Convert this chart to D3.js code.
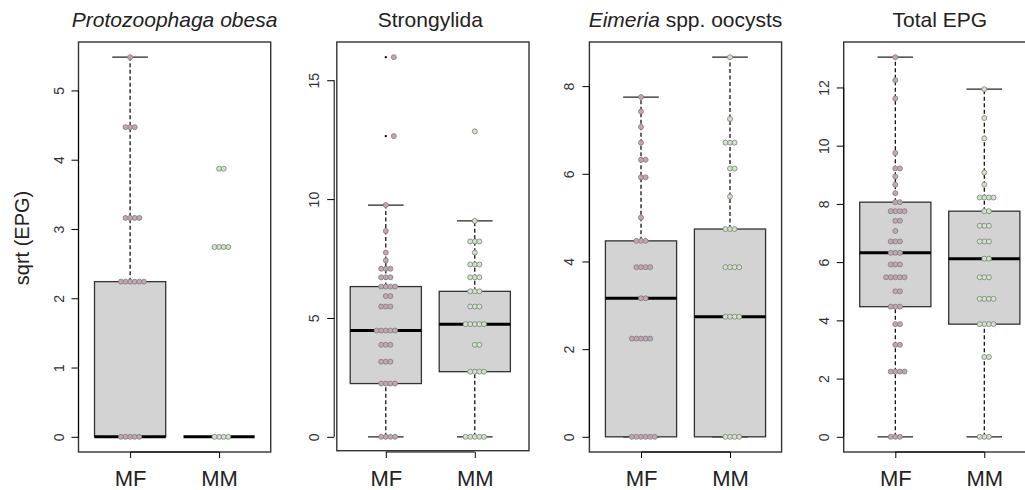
<!DOCTYPE html>
<html>
<head>
<meta charset="utf-8">
<script src="https://cdn.jsdelivr.net/npm/d3@7"></script>
<style>
	body { margin: 0; background: #fff; }
	svg { display: block; font-family: "Liberation Sans", Arial, sans-serif; }
</style>
</head>
<body>
<svg id="chart" width="1025" height="490"></svg>
<script>
var groups = ['MF', 'MM'];

// sqrt(EPG) values per animal, read from the dot strips
var protoMF = [5.48, 4.47, 4.47, 4.47, 3.16, 3.16, 3.16, 3.16, 2.24, 2.24, 2.24, 2.24, 2.24, 2.24, 0, 0, 0, 0, 0];
var protoMM = [3.87, 3.87, 2.74, 2.74, 2.74, 2.74, 0, 0, 0, 0];
var strongMF = [15.97, 12.65, 9.75, 8.66, 7.75, 7.42, 7.07, 7.07, 7.07, 6.71, 6.71, 6.71, 6.32, 6.32, 6.32, 6.32,
	5.92, 5.92, 5.48, 5.48, 5.48, 4.47, 4.47, 4.47, 4.47, 4.47, 3.87, 3.87, 3.87, 3.16, 3.16, 3.16,
	2.24, 2.24, 2.24, 2.24, 0, 0, 0, 0];
var strongMM = [12.85, 9.08, 8.22, 8.22, 8.22, 7.75, 7.25, 7.25, 7.25, 6.71, 6.71, 6.71, 6.12, 6.12, 6.12,
	5.48, 5.48, 5.48, 4.74, 4.74, 4.74, 4.74, 4.74, 3.87, 3.87, 2.74, 2.74, 2.74, 2.74, 0, 0, 0, 0, 0];
var eimeriaMF = [7.75, 7.42, 7.07, 6.71, 6.32, 6.32, 5.92, 5.92, 5.0, 4.47, 4.47, 4.47, 3.87, 3.87, 3.87, 3.87,
	3.16, 3.16, 2.24, 2.24, 2.24, 2.24, 2.24, 0, 0, 0, 0, 0, 0];
var eimeriaMM = [8.66, 7.25, 6.71, 6.71, 6.71, 6.12, 6.12, 5.48, 4.74, 4.74, 4.74, 3.87, 3.87, 3.87, 3.87,
	2.74, 2.74, 2.74, 2.74, 0, 0, 0, 0];
var totalMF = [13.04, 12.25, 11.62, 9.75, 9.22, 9.22, 8.94, 8.66, 8.37, 8.06, 8.06, 7.75, 7.75, 7.75, 7.75,
	7.42, 7.42, 7.07, 6.71, 6.71, 6.71, 6.32, 6.32, 6.32, 5.92, 5.92, 5.92, 5.48, 5.48, 5.48, 5.48, 5.48,
	5.0, 5.0, 4.47, 4.47, 4.47, 3.87, 3.87, 3.16, 3.16, 2.24, 2.24, 2.24, 2.24, 0, 0, 0];
var totalMM = [11.94, 10.95, 10.25, 9.08, 8.66, 8.22, 8.22, 8.22, 8.22, 7.75, 7.75, 7.25, 7.25, 7.25,
	6.71, 6.71, 6.71, 6.12, 6.12, 5.48, 5.48, 5.48, 4.74, 4.74, 4.74, 4.74, 3.87, 3.87, 3.87, 3.87,
	2.74, 2.74, 0, 0, 0];

// box stats: [lower whisker, q1, median, q3, upper whisker]
var protoBox = [[0, 0, 0, 2.24, 5.48], [0, 0, 0, 0, 0]];
var strongBox = [[0, 2.24, 4.47, 6.32, 9.75], [0, 2.74, 4.74, 6.12, 9.08]];
var eimeriaBox = [[0, 0, 3.16, 4.47, 7.75], [0, 0, 2.74, 4.74, 8.66]];
var totalBox = [[0, 4.47, 6.32, 8.06, 13.04], [0, 3.87, 6.12, 7.75, 11.94]];

var protoOut = [[], [2.74, 3.87]];
var strongOut = [[12.65, 15.97], [12.85]];
var eimeriaOut = [[], []];
var totalOut = [[], []];

var protoTicks = [0, 1, 2, 3, 4, 5];
var strongTicks = [0, 5, 10, 15];
var eimeriaTicks = [0, 2, 4, 6, 8];
var totalTicks = [0, 2, 4, 6, 8, 10, 12];

var titles = [
	[{ t: 'Protozoophaga obesa', i: true }],
	[{ t: 'Strongylida', i: false }],
	[{ t: 'Eimeria', i: true }, { t: ' spp. oocysts', i: false }],
	[{ t: 'Total EPG', i: false }]
];

var panels = [
	{ values: [protoMF, protoMM], box: protoBox, out: protoOut, ticks: protoTicks },
	{ values: [strongMF, strongMM], box: strongBox, out: strongOut, ticks: strongTicks },
	{ values: [eimeriaMF, eimeriaMM], box: eimeriaBox, out: eimeriaOut, ticks: eimeriaTicks },
	{ values: [totalMF, totalMM], box: totalBox, out: totalOut, ticks: totalTicks }
];

var plotLefts = [78.5, 334.2, 589.4, 843.7];
var plotWidth = 192.2;
var plotTop = 42;
var plotBottom = 452;
var frameShift = [[0, 0], [2.6, -1.3], [0, 0], [0, 0]];
var dotFill = ['#c4a5b6', '#d0e4ca'];

var svg = d3.select('#chart');

svg.append('text')
	.attr('transform', 'translate(29,238) rotate(-90)')
	.attr('text-anchor', 'middle')
	.attr('font-size', 20)
	.attr('fill', '#222')
	.text('sqrt (EPG)');

function swarmOffsets (vals, y, d) {
	var order = vals.map(function (v, k) { return k; })
		.sort(function (a, b) { return vals[a] - vals[b]; });
	var placed = [];
	var out = new Array(vals.length);

	order.forEach(function (k) {
		var py = y(vals[k]);
		var cands = [0];
		placed.forEach(function (p) {
			var dy = Math.abs(p.y - py);
			if (dy < d) {
				var dx = Math.sqrt(d * d - dy * dy);
				cands.push(p.x + dx, p.x - dx);
			}
		});
		cands.sort(function (a, b) { return Math.abs(a) - Math.abs(b); });
		var best = cands.find(function (c) {
			return placed.every(function (p) {
				var ddx = p.x - c, ddy = p.y - py;
				return ddx * ddx + ddy * ddy >= d * d - 0.01;
			});
		});
		placed.push({ x: best, y: py });
		out[k] = best;
	});
	return out;
};

function drawPanel (p, i) {
	var g = svg.append('g');
	var x = d3.scaleLinear().domain([0.42, 2.58]).range([plotLefts[i], plotLefts[i] + plotWidth]);
	var ymax = d3.max(p.values, function (v) { return d3.max(v); });
	var y = d3.scaleLinear().domain([-ymax * 0.04, ymax * 1.04]).range([plotBottom, plotTop]);
	var half = 0.4, cap = 0.2;

	// title
	var title = g.append('text')
		.attr('x', x(1.5))
		.attr('y', 26.5)
		.attr('text-anchor', 'middle')
		.attr('font-size', 21)
		.attr('fill', '#222');
	titles[i].forEach(function (part) {
		title.append('tspan')
			.attr('font-style', part.i ? 'italic' : 'normal')
			.text(part.t);
	});

	// frame
	g.append('rect')
		.attr('x', x(0.42) + frameShift[i][0])
		.attr('y', plotTop)
		.attr('width', plotWidth)
		.attr('height', plotBottom + frameShift[i][1] - plotTop)
		.attr('fill', 'none')
		.attr('stroke', '#333')
		.attr('stroke-width', 1.4);

	// y axis
	var yAxis = g.append('g')
		.attr('transform', 'translate(' + x(0.42) + ',0)')
		.call(d3.axisLeft(y).tickValues(p.ticks).tickSize(7).tickFormat(d3.format('d')));
	yAxis.select('.domain').remove();
	yAxis.append('line')
		.attr('y1', y(p.ticks[0]))
		.attr('y2', y(p.ticks[p.ticks.length - 1]))
		.attr('stroke', '#000');
	yAxis.selectAll('.tick line').attr('stroke', '#000');
	yAxis.selectAll('.tick text')
		.attr('x', null)
		.attr('dy', null)
		.attr('transform', 'translate(-15,0) rotate(-90)')
		.attr('text-anchor', 'middle')
		.attr('font-size', 14)
		.attr('font-family', '"Liberation Sans", Arial, sans-serif')
		.attr('fill', '#333');

	// x axis
	var xAxis = g.append('g')
		.attr('transform', 'translate(0,' + plotBottom + ')')
		.call(d3.axisBottom(x).tickValues([1, 2]).tickSize(6).tickFormat(function (d) { return groups[d - 1]; }));
	xAxis.select('.domain').remove();
	xAxis.append('line')
		.attr('x1', x(1))
		.attr('x2', x(2))
		.attr('stroke', '#000');
	xAxis.selectAll('.tick line').attr('stroke', '#000');
	xAxis.selectAll('.tick text')
		.attr('y', 34)
		.attr('dy', null)
		.attr('font-size', 22)
		.attr('font-family', '"Liberation Sans", Arial, sans-serif')
		.attr('fill', '#222');

	// boxes
	p.box.forEach(function (b, k) {
		var c = k + 1;
		var bg = g.append('g');

		bg.append('line')
			.attr('x1', x(c)).attr('x2', x(c))
			.attr('y1', y(b[3])).attr('y2', y(b[4]))
			.attr('stroke', '#000').attr('stroke-width', 1.2)
			.attr('stroke-dasharray', '4,2.5');
		bg.append('line')
			.attr('x1', x(c)).attr('x2', x(c))
			.attr('y1', y(b[0])).attr('y2', y(b[1]))
			.attr('stroke', '#000').attr('stroke-width', 1.2)
			.attr('stroke-dasharray', '4,2.5');
		[b[0], b[4]].forEach(function (w) {
			bg.append('line')
				.attr('x1', x(c - cap)).attr('x2', x(c + cap))
				.attr('y1', y(w)).attr('y2', y(w))
				.attr('stroke', '#222').attr('stroke-width', 1.3);
		});
		bg.append('rect')
			.attr('x', x(c - half))
			.attr('y', y(b[3]))
			.attr('width', x(c + half) - x(c - half))
			.attr('height', y(b[1]) - y(b[3]))
			.attr('fill', '#d3d3d3')
			.attr('stroke', '#333')
			.attr('stroke-width', 1.3);
		bg.append('line')
			.attr('x1', x(c - half)).attr('x2', x(c + half))
			.attr('y1', y(b[2])).attr('y2', y(b[2]))
			.attr('stroke', '#000').attr('stroke-width', 3);

		p.out[k].forEach(function (o) {
			bg.append('rect')
				.attr('x', x(c) - 1).attr('y', y(o) - 1)
				.attr('width', 2).attr('height', 2)
				.attr('fill', '#000');
		});
	});

	// dots; a lone outlier dot is nudged aside so the outlier mark shows (MF only, as in the figure)
	p.values.forEach(function (vals, k) {
		var offs = swarmOffsets(vals, y, 4.6);
		g.append('g').selectAll('circle')
			.data(vals)
			.join('circle')
			.attr('cx', function (d, j) {
				var lone = vals.filter(function (v) { return v === d; }).length === 1;
				var nudge = (k === 0 && lone && p.out[k].indexOf(d) >= 0) ? 8 : 0;
				return x(k + 1) + offs[j] + nudge;
			})
			.attr('cy', function (d) { return y(d); })
			.attr('r', 2.5)
			.attr('fill', dotFill[k])
			.attr('stroke', '#7d7d7d')
			.attr('stroke-width', 0.8);
	});
};

panels.forEach(drawPanel);
</script>
</body>
</html>
